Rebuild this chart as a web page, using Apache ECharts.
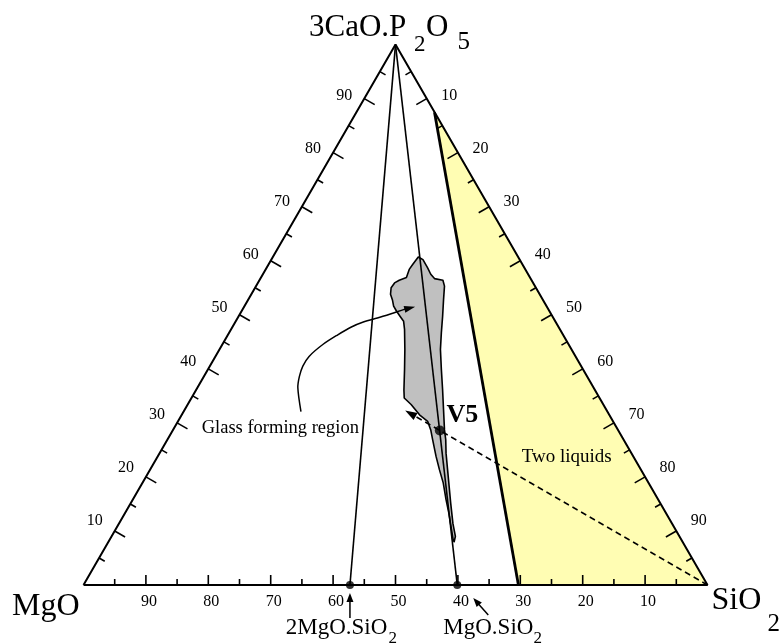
<!DOCTYPE html>
<html>
<head>
<meta charset="utf-8">
<script src="https://cdn.jsdelivr.net/npm/echarts@6/dist/echarts.min.js"></script>
<style>
  html, body { margin: 0; padding: 0; background: #ffffff; }
  #chart { width: 783px; height: 644px; }
</style>
</head>
<body>
<div id="chart"></div>
<script>
const SQ3 = Math.sqrt(3);
const SERIF = '"Liberation Serif", "Times New Roman", Times, serif';

// Every composition is a wt% triple: [MgO, SiO2, 3CaO.P2O5]
const vertexMgO = [100, 0, 0];
const vertexSiO2 = [0, 100, 0];
const vertexC3P = [0, 0, 100];

const tickValues = [5, 10, 15, 20, 25, 30, 35, 40, 45, 50, 55, 60, 65, 70, 75, 80, 85, 90, 95];
const tickLabelValues = [10, 20, 30, 40, 50, 60, 70, 80, 90];

// Binary magnesium silicates on the MgO-SiO2 side (wt% MgO)
const compoundNames = ['2MgO.SiO2', 'MgO.SiO2'];
const compoundMgO = [57.3, 40.1];

// Glass V5 and the direction of the SiO2-V5 dilution line
const v5Point = [28.6, 42.8, 28.6];
const v5LineEnd = [32.3, 35.4, 32.3];

// Two-liquid (immiscibility) field
const twoLiquidsField = [[0, 12.5, 87.5], [30.3, 69.7, 0], [0, 100, 0]];

// Outline of the glass forming region
const glassRegion = [
  [16.0, 23.3, 60.7], [17.6, 23.1, 59.3], [18.6, 23.0, 58.4], [19.8, 23.3, 56.9],
  [21.2, 22.4, 56.4], [22.2, 21.9, 55.9], [23.2, 21.8, 55.0], [23.9, 22.3, 53.8],
  [24.1, 23.1, 52.8], [24.5, 23.9, 51.6], [24.5, 24.8, 50.7], [24.4, 25.9, 49.7],
  [24.3, 26.9, 48.8], [24.9, 27.8, 47.3], [26.7, 29.7, 43.6], [28.6, 31.5, 39.9],
  [30.6, 33.3, 36.1], [31.3, 34.1, 34.6], [30.8, 35.8, 33.4], [30.4, 38.1, 31.5],
  [29.7, 40.0, 30.3], [30.0, 41.3, 28.7], [30.6, 42.5, 26.9], [31.6, 44.6, 23.8],
  [32.3, 46.4, 21.3], [32.9, 48.2, 18.9], [34.0, 50.2, 15.8], [34.8, 51.9, 13.3],
  [35.7, 53.5, 10.8], [36.6, 55.1, 8.3], [36.6, 55.4, 8.0], [35.9, 55.1, 9.0],
  [35.1, 53.5, 11.4], [33.6, 51.3, 15.1], [32.3, 49.5, 18.2], [31.0, 47.7, 21.3],
  [29.7, 45.9, 24.4], [28.5, 44.6, 26.9], [27.8, 43.5, 28.7], [26.1, 41.5, 32.4],
  [24.4, 39.5, 36.1], [22.7, 37.4, 39.9], [21.0, 35.4, 43.6], [19.3, 34.0, 46.7],
  [17.6, 32.7, 49.7], [15.9, 31.3, 52.8], [14.5, 30.2, 55.3], [14.2, 29.4, 56.4],
  [15.4, 27.9, 56.7], [15.6, 26.9, 57.5], [15.5, 25.8, 58.7], [15.5, 24.3, 60.2]
];

// Curved leader from the "Glass forming region" caption
const glassLeader = [
  [49.1, 18.8, 32.1], [47.4, 16.1, 36.5], [46.1, 15.3, 38.6], [44.6, 14.9, 40.5],
  [42.7, 15.0, 42.3], [39.4, 16.1, 44.5], [36.1, 17.6, 46.3], [33.3, 19.0, 47.7],
  [30.7, 20.6, 48.7], [28.2, 22.4, 49.4], [25.6, 24.2, 50.2], [23.1, 25.9, 51.0],
  [21.1, 27.4, 51.5]
];

// ternary composition -> cartesian data coordinates (side length 100)
function toXY(c) {
  const sum = c[0] + c[1] + c[2];
  const s = c[1] / sum * 100, t = c[2] / sum * 100;
  return [s + t / 2, t * SQ3 / 2];
}

function arrowHead(tip, from, len, width) {
  const dx = tip[0] - from[0], dy = tip[1] - from[1];
  const d = Math.hypot(dx, dy) || 1;
  const ux = dx / d, uy = dy / d;
  const bx = tip[0] - ux * len, by = tip[1] - uy * len;
  return {
    type: 'polygon',
    shape: { points: [tip, [bx - uy * width / 2, by + ux * width / 2], [bx + uy * width / 2, by - ux * width / 2]] },
    style: { fill: '#000' }
  };
}
function arrowBase(tip, from, len) {
  const dx = tip[0] - from[0], dy = tip[1] - from[1];
  const d = Math.hypot(dx, dy) || 1;
  return [tip[0] - dx / d * len * 0.8, tip[1] - dy / d * len * 0.8];
}

function textEl(text, x, y, font, align) {
  return {
    type: 'text',
    style: {
      text: text, x: x, y: y, font: font, fill: '#000',
      align: align || 'center', verticalAlign: 'middle',
      textAlign: align || 'center', textVerticalAlign: 'middle'
    }
  };
}

// custom overlay drawn in data space through the cartesian axes
function overlay(name, z, draw) {
  return {
    type: 'custom', name: name, coordinateSystem: 'cartesian2d',
    data: [[0, 0]], encode: { x: 0, y: 1 }, silent: true, clip: false, z: z,
    renderItem: function (params, api) {
      const P = function (c) { return api.coord(toXY(c)); };
      return { type: 'group', children: draw(P) };
    }
  };
}

const series = [];

// two-liquid field
series.push(overlay('Two liquids', 1, function (P) {
  return [{
    type: 'polygon',
    shape: { points: twoLiquidsField.map(P) },
    style: { fill: '#FFFDB3', stroke: null }
  }];
}));

// glass forming region
series.push(overlay('Glass forming region', 2, function (P) {
  return [{
    type: 'polygon',
    shape: { points: glassRegion.map(P) },
    style: { fill: '#C0C0C0', stroke: '#000', lineWidth: 1.6, lineJoin: 'round' }
  }];
}));

// boundary of the two-liquid field
series.push({
  type: 'line', z: 3, silent: true, symbol: 'none', animation: false,
  data: [toXY(twoLiquidsField[0]), toXY(twoLiquidsField[1])],
  lineStyle: { color: '#000', width: 2.8 }
});

// joins from 3CaO.P2O5 to the silicates
compoundMgO.forEach(function (m) {
  series.push({
    type: 'line', z: 3, silent: true, symbol: 'none', animation: false,
    data: [toXY(vertexC3P), toXY([m, 100 - m, 0])],
    lineStyle: { color: '#000', width: 1.6 }
  });
});

// triangle frame
series.push({
  type: 'line', z: 4, silent: true, symbol: 'none', animation: false,
  data: [toXY(vertexMgO), toXY(vertexSiO2), toXY(vertexC3P), toXY(vertexMgO)],
  lineStyle: { color: '#000', width: 2 }
});

// ticks and tick labels on the three sides
series.push(overlay('ticks', 5, function (P) {
  const A = P(vertexMgO), B = P(vertexSiO2), C = P(vertexC3P);
  const cen = [(A[0] + B[0] + C[0]) / 3, (A[1] + B[1] + C[1]) / 3];
  const sides = [
    { ends: [A, B], comp: function (v) { return [v, 100 - v, 0]; }, major: 10, minor: 6,
      off: function (v) { return [3, 16.5]; } },
    { ends: [A, C], comp: function (v) { return [100 - v, 0, v]; }, major: 12, minor: 6.5,
      off: function (v) { return [-20, -11.2 + 0.093 * v]; } },
    { ends: [C, B], comp: function (v) { return [0, v, 100 - v]; }, major: 12, minor: 6.5,
      off: function (v) { return [22.5, -11.2 + 0.093 * (100 - v)]; } }
  ];
  const out = [];
  sides.forEach(function (sd) {
    const p0 = sd.ends[0], p1 = sd.ends[1];
    const dx = p1[0] - p0[0], dy = p1[1] - p0[1], d = Math.hypot(dx, dy);
    let nx = -dy / d, ny = dx / d;
    if (nx * (cen[0] - p0[0]) + ny * (cen[1] - p0[1]) < 0) { nx = -nx; ny = -ny; }
    tickValues.forEach(function (v) {
      const p = P(sd.comp(v));
      const isMajor = tickLabelValues.indexOf(v) >= 0;
      const len = isMajor ? sd.major : sd.minor;
      out.push({
        type: 'line',
        shape: { x1: p[0], y1: p[1], x2: p[0] + nx * len, y2: p[1] + ny * len },
        style: { stroke: '#000', lineWidth: 1.6 }
      });
      if (isMajor) {
        const o = sd.off(v);
        out.push(textEl(String(v), p[0] + o[0], p[1] + o[1], '16px ' + SERIF));
      }
    });
  });
  return out;
}));

// dashed SiO2 - V5 line with arrow
series.push(overlay('V5 line', 6, function (P) {
  const a = P(vertexSiO2), tip = P(v5LineEnd);
  const base = arrowBase(tip, a, 12);
  return [
    { type: 'line', shape: { x1: a[0], y1: a[1], x2: base[0], y2: base[1] },
      style: { stroke: '#000', lineWidth: 1.5, lineDash: [6, 4] } },
    arrowHead(tip, a, 12, 8)
  ];
}));

// curved leader from the caption to the glass region
series.push(overlay('leader', 6, function (P) {
  const pts = glassLeader.map(P);
  const tip = pts[pts.length - 1], prev = pts[pts.length - 2];
  const body = pts.slice(0, -1).concat([arrowBase(tip, prev, 11)]);
  return [
    { type: 'polyline', shape: { points: body, smooth: 0.3 },
      style: { stroke: '#000', lineWidth: 1.5, fill: null } },
    arrowHead(tip, prev, 11, 7)
  ];
}));

// arrows pointing at the silicate compositions
series.push(overlay('compound arrows', 6, function (P) {
  const offsets = [
    { tip: [0, 8], tail: [0, 33] },
    { tip: [16, 13], tail: [31, 30] }
  ];
  const out = [];
  compoundMgO.forEach(function (m, i) {
    const p = P([m, 100 - m, 0]);
    const tip = [p[0] + offsets[i].tip[0], p[1] + offsets[i].tip[1]];
    const tail = [p[0] + offsets[i].tail[0], p[1] + offsets[i].tail[1]];
    const base = arrowBase(tip, tail, 9);
    out.push({ type: 'line', shape: { x1: tail[0], y1: tail[1], x2: base[0], y2: base[1] },
      style: { stroke: '#000', lineWidth: 1.5 } });
    out.push(arrowHead(tip, tail, 9, 7));
  });
  return out;
}));

// points: silicates and glass V5
series.push({
  type: 'scatter', z: 7, silent: true, animation: false,
  symbol: 'circle', symbolSize: 8,
  data: compoundMgO.map(function (m) { return toXY([m, 100 - m, 0]); }),
  itemStyle: { color: '#000' }
});
series.push({
  type: 'scatter', z: 7, silent: true, animation: false,
  symbol: 'circle', symbolSize: 10,
  data: [toXY(v5Point)],
  itemStyle: { color: '#000' }
});

const chart = echarts.init(document.getElementById('chart'), null, { renderer: 'canvas' });

function gtext(text, x, y, size, weight) {
  return {
    type: 'text', silent: true, z: 10,
    style: {
      text: text, x: x, y: y,
      font: (weight || 'normal') + ' ' + size + 'px ' + SERIF,
      fill: '#000', align: 'left', verticalAlign: 'middle',
      textAlign: 'left', textVerticalAlign: 'middle'
    }
  };
}

chart.setOption({
  animation: false,
  backgroundColor: '#ffffff',
  grid: { left: 83.5, top: 44.6, width: 624, height: 540.4, containLabel: false },
  xAxis: { type: 'value', min: 0, max: 100, show: false },
  yAxis: { type: 'value', min: 0, max: 50 * SQ3, show: false },
  series: series,
  graphic: [
    gtext('3CaO.P', 309, 27.4, 31),
    gtext('2', 414, 44.8, 23),
    gtext('O', 426, 27.4, 31),
    gtext('5', 457.5, 42.5, 25),
    gtext('MgO', 12, 606.4, 32),
    gtext('SiO', 711.5, 600.4, 32),
    gtext('2', 767.5, 624.5, 25),
    gtext('2MgO.SiO', 285.7, 628.1, 23),
    gtext('2', 388.5, 638.4, 17),
    gtext('MgO.SiO', 443.3, 628.1, 23),
    gtext('2', 533.5, 638.4, 17),
    gtext('V5', 446.5, 415.2, 26, 'bold'),
    gtext('Two liquids', 521.7, 457, 19),
    gtext('Glass forming region', 201.7, 427.8, 18.5)
  ]
});
</script>
</body>
</html>
